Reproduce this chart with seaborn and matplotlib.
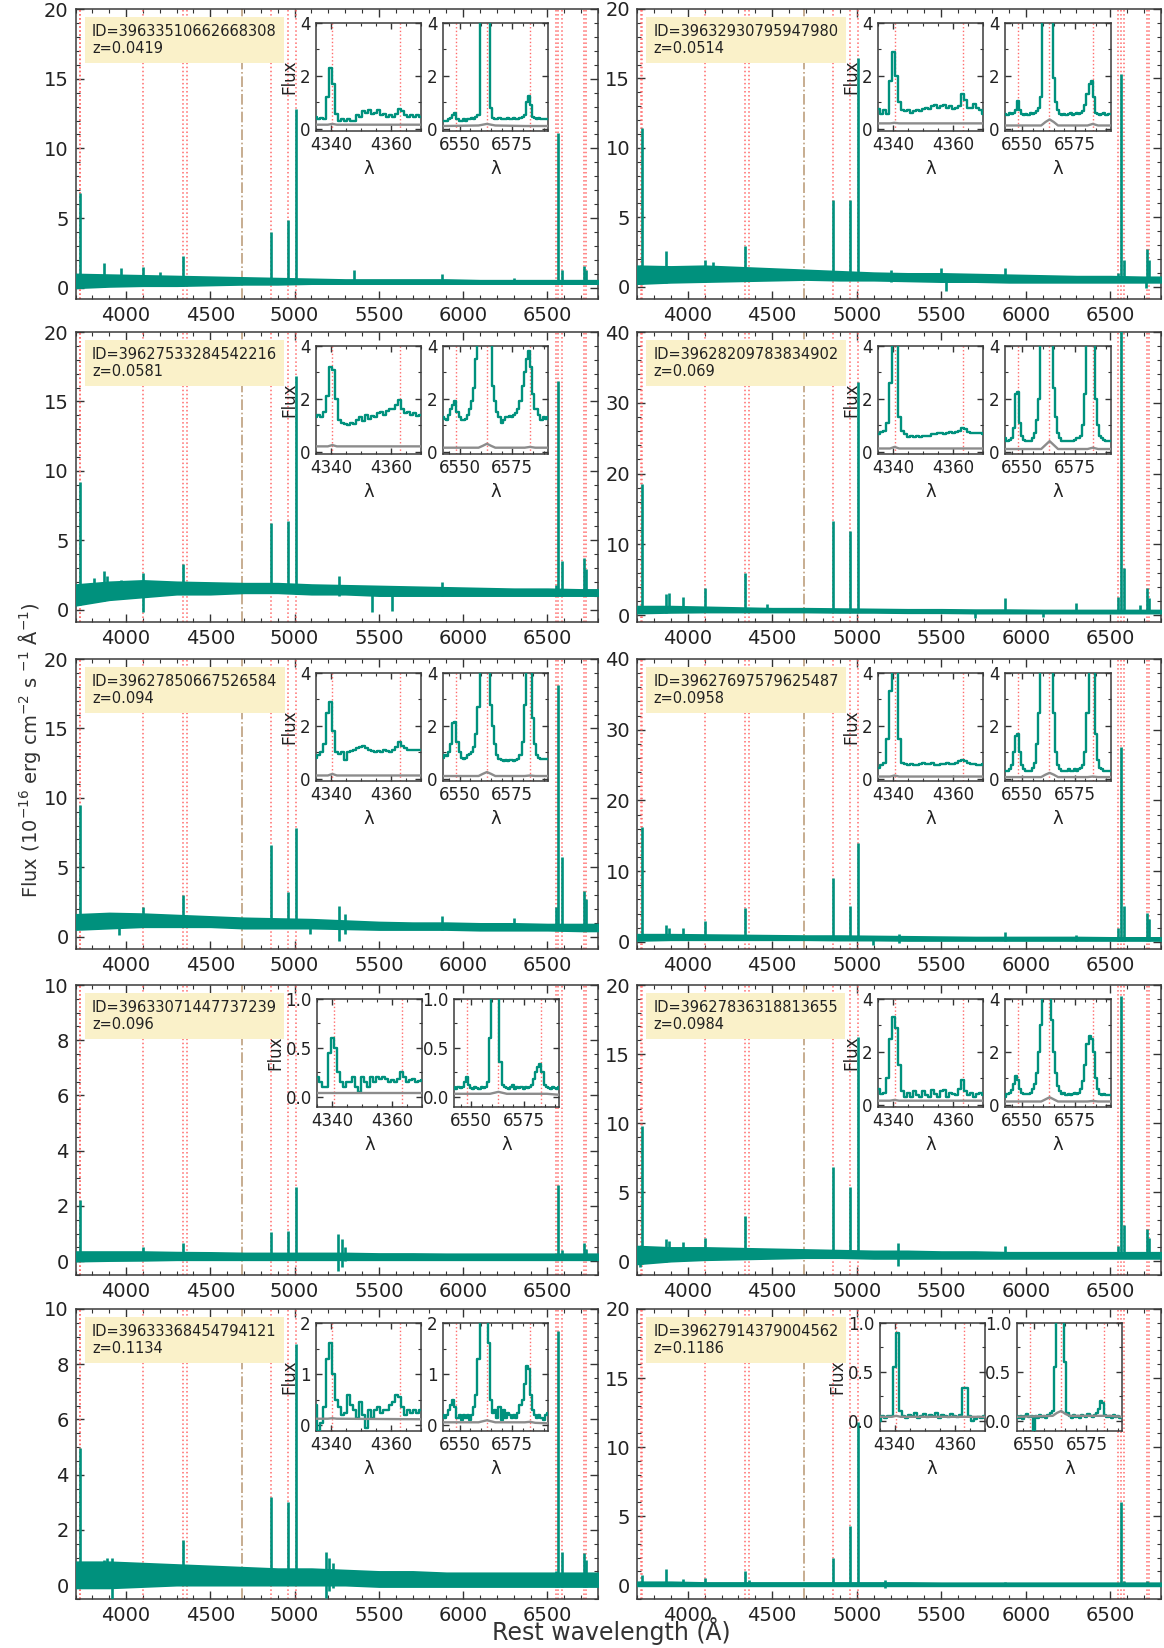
import numpy as np
import matplotlib
matplotlib.use("Agg")
import matplotlib.pyplot as plt
import seaborn as sns
from matplotlib.ticker import MultipleLocator, AutoMinorLocator

# ---------------------------------------------------------------- data
IDS = ["39633510662668308", "39632930795947980", "39627533284542216",
       "39628209783834902", "39627850667526584", "39627697579625487",
       "39633071447737239", "39627836318813655", "39633368454794121",
       "39627914379004562"]
REDSHIFTS = ["0.0419", "0.0514", "0.0581", "0.069", "0.094",
             "0.0958", "0.096", "0.0984", "0.1134", "0.1186"]
YMAX = [20, 20, 20, 40, 20, 40, 10, 20, 10, 20]
YMIN = [-0.8, -0.9, -0.9, -0.95, -0.9, -1.0, -0.5, -1.0, -0.5, -1.0]
INSET_YMAX = [4, 4, 4, 4, 4, 4, 1, 4, 2, 1]

# continuum envelope knots (rest wavelength, Angstrom)
KNOTS = [3700, 3900, 4100, 4300, 4500, 4700, 4900, 5100, 5300, 5500,
         5700, 5900, 6100, 6300, 6500, 6700, 6800]
LINE_WAVES = [3727, 3869, 3889, 3970, 4102, 4340, 4861, 4959, 5007,
              5876, 6300, 6548, 6563, 6584, 6717, 6731]
# marked lines
RED_LINES = [3726.0, 3728.8, 4101.7, 4340.5, 4363.2, 4861.3, 4958.9,
             5006.8, 6548.1, 6562.8, 6583.5, 6716.4, 6730.8]
HEII = 4685.7

lo_1 = [0.0, 0.1, 0.15, 0.15, 0.2, 0.25, 0.25, 0.3, 0.3, 0.3, 0.3, 0.3, 0.3, 0.3, 0.3, 0.3, 0.3]
hi_1 = [1.0, 0.95, 0.9, 0.85, 0.8, 0.75, 0.7, 0.65, 0.6, 0.6, 0.6, 0.6, 0.55, 0.55, 0.55, 0.55, 0.55]
peak_1 = [6.8, 1.75, 0, 1.4, 1.5, 2.3, 4.0, 4.85, 12.8, 1.0, 0.7, 0, 11.1, 1.3, 1.6, 1.3]
xw_1 = [3780, 4200, 5350]; xlo_1 = [0.2, 0.3, 0.3]; xhi_1 = [1.0, 1.15, 1.3]

lo_2 = [0.2, 0.3, 0.35, 0.4, 0.45, 0.5, 0.45, 0.45, 0.4, 0.35, 0.35, 0.3, 0.3, 0.3, 0.3, 0.3, 0.3]
hi_2 = [1.5, 1.45, 1.5, 1.4, 1.3, 1.2, 1.1, 1.0, 0.95, 0.95, 0.9, 0.85, 0.8, 0.75, 0.75, 0.7, 0.7]
peak_2 = [11.4, 2.55, 0, 0, 1.9, 2.95, 6.2, 6.2, 16.5, 1.3, 0, 1.0, 15.3, 1.9, 2.7, 1.9]
xw_2 = [4150, 5200, 5500, 5530, 6710]; xlo_2 = [0.4, 0.3, 0.3, -0.3, -0.1]; xhi_2 = [1.8, 1.2, 1.35, 0.8, 0.6]

lo_3 = [0.3, 0.7, 0.9, 1.1, 1.1, 1.2, 1.2, 1.1, 1.1, 1.0, 1.0, 1.0, 1.0, 1.0, 1.0, 1.0, 1.0]
hi_3 = [1.8, 2.0, 2.1, 2.0, 1.95, 1.9, 1.9, 1.8, 1.75, 1.7, 1.65, 1.6, 1.55, 1.5, 1.5, 1.45, 1.45]
peak_3 = [9.2, 2.8, 2.4, 2.1, 2.6, 3.3, 6.2, 6.4, 16.8, 2.0, 0, 1.8, 16.5, 3.5, 3.7, 2.9]
xw_3 = [3807, 4102, 5265, 5460, 5577]; xlo_3 = [1.0, -0.15, 1.0, -0.2, -0.1]; xhi_3 = [2.3, 1.2, 2.4, 1.3, 1.3]

lo_4 = [0.3, 0.4, 0.45, 0.45, 0.45, 0.45, 0.4, 0.4, 0.35, 0.35, 0.3, 0.3, 0.3, 0.3, 0.3, 0.3, 0.3]
hi_4 = [1.3, 1.3, 1.2, 1.1, 1.0, 1.0, 0.95, 0.9, 0.85, 0.85, 0.8, 0.8, 0.75, 0.75, 0.75, 0.75, 0.75]
peak_4 = [18.6, 3.0, 3.2, 2.6, 3.8, 6.0, 13.3, 11.9, 32.9, 2.4, 1.7, 2.6, 45, 6.7, 3.8, 2.5]
xw_4 = [4471, 5700, 6100, 6678]; xlo_4 = [0.5, -0.4, -0.3, 0.4]; xhi_4 = [1.6, 0.8, 0.8, 1.4]

lo_5 = [0.5, 0.6, 0.7, 0.7, 0.7, 0.6, 0.6, 0.6, 0.55, 0.5, 0.5, 0.5, 0.45, 0.45, 0.45, 0.4, 0.4]
hi_5 = [1.6, 1.7, 1.65, 1.55, 1.45, 1.35, 1.3, 1.25, 1.15, 1.05, 1.0, 1.0, 0.95, 0.95, 0.9, 0.9, 0.9]
peak_5 = [9.5, 0, 0, 0, 2.1, 3.0, 6.6, 3.2, 7.8, 1.5, 1.3, 2.1, 18.1, 5.7, 3.3, 2.7]
xw_5 = [3957, 5090, 5265, 5300]; xlo_5 = [0.1, 0.2, -0.3, 0.2]; xhi_5 = [1.2, 1.0, 2.2, 1.6]

lo_6 = [0.2, 0.3, 0.3, 0.3, 0.3, 0.3, 0.25, 0.25, 0.2, 0.2, 0.2, 0.2, 0.2, 0.2, 0.2, 0.2, 0.2]
hi_6 = [1.1, 1.1, 1.05, 1.0, 0.95, 0.9, 0.9, 0.85, 0.8, 0.75, 0.7, 0.7, 0.7, 0.7, 0.65, 0.65, 0.65]
peak_6 = [16.2, 2.4, 2.0, 1.9, 2.9, 4.8, 9.0, 5.1, 14.0, 1.45, 1.0, 1.9, 27.6, 5.1, 4.1, 3.3]
xw_6 = [5095, 5250]; xlo_6 = [-0.5, -0.2]; xhi_6 = [0.6, 1.1]

lo_7 = [0.0, 0.02, 0.03, 0.05, 0.05, 0.05, 0.05, 0.05, 0.05, 0.05, 0.05, 0.05, 0.05, 0.05, 0.05, 0.05, 0.05]
hi_7 = [0.35, 0.35, 0.35, 0.33, 0.32, 0.3, 0.3, 0.3, 0.3, 0.28, 0.28, 0.27, 0.27, 0.27, 0.27, 0.27, 0.27]
peak_7 = [2.2, 0.35, 0, 0, 0.5, 0.65, 1.07, 1.1, 2.7, 0, 0, 0, 2.75, 0.4, 0.65, 0.45]
xw_7 = [5260, 5280, 5300]; xlo_7 = [-0.35, -0.2, 0.0]; xhi_7 = [1.0, 0.8, 0.5]

lo_8 = [-0.2, 0.0, 0.1, 0.15, 0.2, 0.25, 0.25, 0.2, 0.2, 0.2, 0.2, 0.2, 0.2, 0.2, 0.2, 0.2, 0.2]
hi_8 = [1.1, 1.0, 1.0, 0.95, 0.9, 0.85, 0.8, 0.75, 0.75, 0.7, 0.7, 0.65, 0.65, 0.65, 0.65, 0.65, 0.65]
peak_8 = [9.8, 1.6, 1.45, 1.4, 1.7, 3.3, 6.8, 5.4, 16.2, 1.1, 0, 1.1, 19.2, 2.6, 2.35, 1.7]
xw_8 = [3715, 5245]; xlo_8 = [-0.4, -0.35]; xhi_8 = [0.8, 1.3]

lo_9 = [-0.1, -0.1, -0.05, 0.0, 0.0, 0.0, 0.0, 0.0, 0.0, -0.05, -0.05, -0.05, -0.05, -0.05, -0.05, -0.05, -0.05]
hi_9 = [0.85, 0.85, 0.8, 0.75, 0.7, 0.65, 0.6, 0.6, 0.55, 0.5, 0.5, 0.45, 0.45, 0.45, 0.45, 0.45, 0.45]
peak_9 = [4.95, 0.9, 1.0, 0, 0, 1.65, 3.2, 3.0, 8.75, 0, 0, 0.5, 9.2, 1.2, 1.15, 0.9]
xw_9 = [3915, 5185, 5205, 5230]; xlo_9 = [-0.5, -0.45, -0.2, -0.1]; xhi_9 = [1.0, 1.2, 1.0, 0.8]

lo_10 = [-0.05, -0.05, -0.05, -0.05, -0.05, -0.05, -0.05, -0.05, -0.05, -0.05, -0.05, -0.05, -0.05, -0.05, -0.05, -0.05, -0.05]
hi_10 = [0.25, 0.25, 0.2, 0.2, 0.2, 0.2, 0.2, 0.2, 0.2, 0.18, 0.18, 0.18, 0.18, 0.18, 0.18, 0.18, 0.18]
peak_10 = [0.75, 1.2, 0, 0.45, 0.55, 1.0, 2.0, 4.3, 11.8, 0.2, 0, 0, 6.05, 0.3, 0.3, 0]
xw_10 = [4363, 5165]; xlo_10 = [0.0, -0.2]; xhi_10 = [0.4, 0.4]

# insets: 1-Angstrom pixels starting at HG_START / HA_START
HG_START, HA_START = 4335, 6542
hg_1 = [0.45, 0.35, 0.4, 0.35, 1.2, 2.3, 1.7, 0.55, 0.3, 0.35, 0.3, 0.35, 0.3, 0.3, 0.5, 0.45, 0.65, 0.6,
        0.7, 0.55, 0.6, 0.7, 0.5, 0.55, 0.45, 0.5, 0.45, 0.55, 0.75, 0.65, 0.5, 0.45, 0.5, 0.45, 0.5, 0.45]
ha_1 = [0.3, 0.3, 0.3, 0.35, 0.4, 0.5, 0.6, 0.35, 0.3, 0.3, 0.35, 0.3, 0.35, 0.35, 0.4, 0.35, 0.45,
        0.5, 4.5, 11, 11, 11, 4.5, 0.8, 0.4, 0.35, 0.35, 0.4, 0.35, 0.35, 0.35, 0.4, 0.35, 0.35,
        0.4, 0.35, 0.35, 0.4, 0.45, 0.5, 1.0, 1.25, 0.9, 0.45, 0.4, 0.35, 0.4, 0.35, 0.35, 0.35, 0.35]
hg_2 = [0.75, 0.55, 0.7, 0.55, 1.8, 2.9, 2.0, 1.0, 0.7, 0.65, 0.7, 0.6, 0.65, 0.7, 0.65, 0.75, 0.8, 0.75,
        0.85, 0.9, 0.8, 0.85, 0.9, 0.8, 0.85, 0.75, 0.8, 0.85, 1.3, 1.1, 0.8, 0.8, 0.95, 0.8, 0.7, 0.55]
ha_2 = [0.55, 0.5, 0.6, 0.55, 0.6, 0.7, 1.05, 0.7, 0.55, 0.5, 0.55, 0.5, 0.6, 0.55, 0.6, 0.65, 0.8,
        1.2, 5, 15, 15, 15, 6, 1.9, 1.0, 0.7, 0.55, 0.5, 0.55, 0.5, 0.55, 0.6, 0.5, 0.55,
        0.6, 0.55, 0.6, 0.65, 0.9, 1.3, 1.7, 1.8, 1.2, 0.6, 0.55, 0.5, 0.55, 0.6, 0.5, 0.55, 0.55]
hg_3 = [1.3, 1.4, 1.3, 1.5, 2.1, 3.2, 3.1, 2.0, 1.2, 1.1, 1.05, 1.0, 1.1, 1.05, 1.2, 1.3, 1.15, 1.4,
        1.25, 1.35, 1.3, 1.45, 1.5, 1.4, 1.55, 1.6, 1.6, 1.75, 1.95, 1.6, 1.45, 1.5, 1.4, 1.45, 1.35, 1.4]
ha_3 = [1.3, 1.25, 1.2, 1.4, 1.6, 1.75, 1.9, 1.5, 1.3, 1.2, 1.2, 1.25, 1.4, 1.6, 1.9, 2.4, 3.5,
        6, 14, 17, 17, 14, 6, 4.5, 2.5, 1.9, 1.5, 1.3, 1.1, 1.2, 1.3, 1.3, 1.35, 1.3,
        1.4, 1.45, 1.6, 1.9, 2.5, 3.0, 3.5, 3.8, 3.2, 2.2, 1.6, 1.6, 1.4, 1.2, 1.3, 1.25, 1.3]
hg_4 = [0.65, 0.75, 0.8, 1.1, 2.6, 6.0, 5.0, 1.3, 0.8, 0.65, 0.55, 0.6, 0.55, 0.6, 0.55, 0.6, 0.6, 0.6,
        0.65, 0.65, 0.7, 0.7, 0.65, 0.7, 0.75, 0.7, 0.75, 0.8, 0.9, 0.85, 0.75, 0.7, 0.7, 0.7, 0.7, 0.65]
ha_4 = [0.5, 0.4, 0.45, 0.5, 0.9, 2.2, 2.25, 1.1, 0.6, 0.45, 0.4, 0.4, 0.4, 0.5, 0.7, 1.2, 2.0,
        5, 20, 45, 45, 20, 6, 2.4, 1.3, 0.7, 0.5, 0.4, 0.4, 0.4, 0.4, 0.4, 0.4, 0.45,
        0.5, 0.5, 0.6, 1.0, 2.2, 4.5, 6.5, 6.7, 5.0, 2.0, 1.0, 0.6, 0.5, 0.45, 0.4, 0.4, 0.4]
hg_5 = [0.8, 0.9, 1.0, 1.3, 2.5, 2.9, 1.8, 1.0, 0.95, 1.0, 0.7, 1.0, 1.05, 1.1, 1.15, 1.2, 1.25, 1.15,
        1.1, 1.05, 1.0, 1.05, 1.0, 1.1, 1.05, 1.0, 1.1, 1.2, 1.4, 1.25, 1.15, 1.1, 1.1, 1.1, 1.1, 1.1]
ha_5 = [0.8, 0.9, 0.85, 1.0, 1.3, 2.1, 2.15, 1.4, 1.0, 0.8, 0.75, 0.8, 0.9, 0.95, 1.0, 1.2, 1.7,
        2.7, 8, 18, 18, 18, 8, 2.8, 2.0, 1.3, 0.9, 0.75, 0.7, 0.65, 0.7, 0.65, 0.7, 0.7,
        0.65, 0.7, 0.75, 0.9, 1.4, 2.8, 4.5, 5.7, 5.0, 2.3, 1.3, 0.9, 0.8, 0.75, 0.75, 0.75, 0.75]
hg_6 = [0.4, 0.5, 0.6, 1.5, 3.3, 4.8, 4.5, 1.5, 0.6, 0.55, 0.5, 0.55, 0.5, 0.5, 0.55, 0.6, 0.55, 0.55,
        0.6, 0.5, 0.5, 0.55, 0.55, 0.6, 0.55, 0.55, 0.6, 0.65, 0.7, 0.65, 0.6, 0.55, 0.55, 0.5, 0.5, 0.55]
ha_6 = [0.3, 0.3, 0.35, 0.5, 1.0, 1.6, 1.7, 1.0, 0.5, 0.35, 0.3, 0.3, 0.3, 0.4, 0.6, 1.3, 2.5,
        8, 20, 27.6, 27, 20, 8, 2.5, 1.0, 0.5, 0.35, 0.3, 0.3, 0.3, 0.35, 0.3, 0.3, 0.35,
        0.3, 0.35, 0.4, 0.5, 1.0, 2.5, 4.5, 5.1, 4.5, 1.7, 0.7, 0.4, 0.35, 0.3, 0.3, 0.3, 0.3]
hg_7 = [0.2, 0.15, 0.1, 0.1, 0.45, 0.6, 0.5, 0.25, 0.15, 0.1, 0.15, 0.15, 0.2, 0.1, 0.05, 0.2, 0.15, 0.1,
        0.2, 0.15, 0.2, 0.18, 0.2, 0.18, 0.15, 0.17, 0.15, 0.18, 0.25, 0.2, 0.15, 0.17, 0.18, 0.15, 0.16, 0.17]
ha_7 = [0.1, 0.08, 0.1, 0.09, 0.1, 0.15, 0.2, 0.12, 0.09, 0.08, 0.1, 0.09, 0.08, 0.1, 0.09, 0.1, 0.15,
        0.6, 1.8, 2.75, 2.7, 1.5, 0.35, 0.12, 0.1, 0.09, 0.08, 0.1, 0.12, 0.08, 0.1, 0.09, 0.1, 0.08,
        0.1, 0.09, 0.1, 0.12, 0.18, 0.25, 0.3, 0.33, 0.25, 0.12, 0.1, 0.09, 0.08, 0.1, 0.09, 0.08, 0.1]
hg_8 = [0.6, 0.4, 0.45, 1.0, 2.5, 3.3, 2.9, 1.5, 0.5, 0.3, 0.45, 0.3, 0.5, 0.35, 0.3, 0.5, 0.35, 0.3,
        0.55, 0.4, 0.3, 0.5, 0.55, 0.3, 0.45, 0.4, 0.35, 0.6, 0.95, 0.5, 0.35, 0.45, 0.3, 0.4, 0.45, 0.35]
ha_8 = [0.3, 0.4, 0.45, 0.55, 0.8, 1.1, 0.95, 0.6, 0.45, 0.4, 0.4, 0.4, 0.45, 0.6, 0.8, 1.2, 2.0,
        3.0, 8, 19.2, 19, 8, 3.2, 2.0, 1.2, 0.7, 0.5, 0.4, 0.45, 0.35, 0.4, 0.35, 0.4, 0.45,
        0.4, 0.45, 0.6, 0.9, 1.5, 2.3, 2.6, 2.5, 2.0, 1.0, 0.6, 0.4, 0.35, 0.4, 0.35, 0.35, 0.35]
hg_9 = [0.4, -0.1, 0.05, 0.35, 1.3, 1.6, 1.0, 0.5, 0.35, 0.2, 0.25, 0.6, 0.4, 0.3, 0.15, 0.45, 0.2, -0.05,
        0.3, 0.15, 0.3, 0.35, 0.25, 0.3, 0.3, 0.4, 0.45, 0.6, 0.55, 0.35, 0.2, 0.3, 0.25, 0.3, 0.25, 0.3]
ha_9 = [0.2, 0.15, 0.2, 0.3, 0.4, 0.5, 0.35, 0.15, 0.2, 0.1, 0.2, 0.15, 0.2, 0.1, 0.2, 0.35, 0.6,
        1.3, 4, 9.2, 9.2, 4, 1.6, 0.5, 0.25, 0.3, 0.15, 0.35, 0.1, 0.3, 0.15, 0.25, 0.2, 0.15,
        0.2, 0.15, 0.25, 0.4, 0.5, 0.8, 1.15, 1.1, 0.6, 0.3, 0.2, 0.15, 0.2, 0.15, 0.1, 0.2, 0.25]
hg_10 = [0.0, 0.05, 0.03, 0.05, 0.05, 0.55, 0.9, 0.1, 0.05, 0.03, 0.06, 0.05, 0.08, 0.03, 0.05, 0.07, 0.04, 0.06,
         0.05, 0.08, 0.03, 0.06, 0.05, 0.04, 0.07, 0.05, 0.04, 0.06, 0.33, 0.33, 0.05, 0.0, 0.02, 0.04, 0.03, 0.05]
ha_10 = [0.05, 0.03, 0.05, 0.02, 0.05, 0.07, 0.04, 0.05, -0.15, 0.05, 0.03, 0.06, 0.04, 0.05, 0.03, 0.06, 0.08,
         0.1, 0.55, 2.5, 6.05, 6.0, 1.5, 0.6, 0.08, 0.05, 0.03, 0.06, 0.04, 0.05, 0.03, 0.06, 0.05, 0.04,
         0.07, 0.05, 0.04, 0.06, 0.08, 0.12, 0.2, 0.18, 0.06, 0.04, 0.05, 0.03, 0.06, 0.04, 0.05, 0.03, 0.04]

# error spectra (grey) in the insets
ERR_HG_WAVE = [4335, 4339, 4340.5, 4342, 4370]
ERR_HA_WAVE = [6542, 6559, 6561, 6563, 6565, 6567, 6581, 6583.5, 6586, 6592]
ehg_1 = [0.15, 0.15, 0.18, 0.15, 0.15]; eha_1 = [0.1, 0.12, 0.15, 0.18, 0.15, 0.12, 0.1, 0.1, 0.1, 0.1]
ehg_2 = [0.2, 0.2, 0.22, 0.2, 0.2];     eha_2 = [0.12, 0.12, 0.25, 0.35, 0.25, 0.12, 0.12, 0.18, 0.12, 0.12]
ehg_3 = [0.2, 0.2, 0.25, 0.2, 0.2];     eha_3 = [0.15, 0.15, 0.22, 0.3, 0.22, 0.15, 0.15, 0.18, 0.15, 0.15]
ehg_4 = [0.12, 0.12, 0.18, 0.12, 0.12]; eha_4 = [0.1, 0.1, 0.25, 0.4, 0.25, 0.1, 0.1, 0.15, 0.1, 0.1]
ehg_5 = [0.12, 0.12, 0.18, 0.12, 0.12]; eha_5 = [0.1, 0.1, 0.18, 0.25, 0.18, 0.1, 0.1, 0.12, 0.1, 0.1]
ehg_6 = [0.08, 0.08, 0.12, 0.08, 0.08]; eha_6 = [0.06, 0.06, 0.15, 0.22, 0.15, 0.06, 0.06, 0.08, 0.06, 0.06]
ehg_7 = [0.04, 0.04, 0.04, 0.04, 0.04]; eha_7 = [0.03, 0.03, 0.04, 0.05, 0.04, 0.03, 0.03, 0.03, 0.03, 0.02]
ehg_8 = [0.15, 0.15, 0.18, 0.15, 0.15]; eha_8 = [0.12, 0.12, 0.2, 0.28, 0.2, 0.12, 0.12, 0.14, 0.12, 0.12]
ehg_9 = [0.13, 0.13, 0.14, 0.13, 0.12]; eha_9 = [0.06, 0.06, 0.08, 0.1, 0.08, 0.06, 0.06, 0.07, 0.05, 0.04]
ehg_10 = [0.04, 0.04, 0.05, 0.04, 0.04]; eha_10 = [0.04, 0.05, 0.08, 0.1, 0.07, 0.05, 0.05, 0.05, 0.05, 0.04]

LO = [lo_1, lo_2, lo_3, lo_4, lo_5, lo_6, lo_7, lo_8, lo_9, lo_10]
HI = [hi_1, hi_2, hi_3, hi_4, hi_5, hi_6, hi_7, hi_8, hi_9, hi_10]
PEAK = [peak_1, peak_2, peak_3, peak_4, peak_5, peak_6, peak_7, peak_8, peak_9, peak_10]
XW = [xw_1, xw_2, xw_3, xw_4, xw_5, xw_6, xw_7, xw_8, xw_9, xw_10]
XLO = [xlo_1, xlo_2, xlo_3, xlo_4, xlo_5, xlo_6, xlo_7, xlo_8, xlo_9, xlo_10]
XHI = [xhi_1, xhi_2, xhi_3, xhi_4, xhi_5, xhi_6, xhi_7, xhi_8, xhi_9, xhi_10]
HG = [hg_1, hg_2, hg_3, hg_4, hg_5, hg_6, hg_7, hg_8, hg_9, hg_10]
HA = [ha_1, ha_2, ha_3, ha_4, ha_5, ha_6, ha_7, ha_8, ha_9, ha_10]
EHG = [ehg_1, ehg_2, ehg_3, ehg_4, ehg_5, ehg_6, ehg_7, ehg_8, ehg_9, ehg_10]
EHA = [eha_1, eha_2, eha_3, eha_4, eha_5, eha_6, eha_7, eha_8, eha_9, eha_10]

# ---------------------------------------------------------------- style
sns.set_theme(style="ticks")
plt.rcParams["font.family"] = ["DejaVu Sans"]
plt.rcParams["mathtext.default"] = "regular"
plt.rcParams["axes.linewidth"] = 1.1
plt.rcParams["axes.edgecolor"] = "#3a3a3a"

TEAL = "#00917D"
RED = "#FF6B6B"
TAN = "#BDA07E"
GREY = "#8c8c8c"
TXT = "#222222"

W, H = 1164, 1648
fig = plt.figure(figsize=(W / 100, H / 100), dpi=100)
COL_X = [75.5, 637]
COL_W = [522.5, 524]
ROW_TOP = [9, 332, 659, 985, 1309]
ROW_H = 290
YSTEP = {20: 5, 40: 10, 10: 2}


def style_ticks(a, size, major_len, minor_len, pad):
    a.tick_params(which="both", direction="in", top=True, right=True,
                  labelsize=size, pad=pad, colors="#333333", labelcolor=TXT)
    a.tick_params(which="major", length=major_len, width=1.0)
    a.tick_params(which="minor", length=minor_len, width=0.8)


for i in range(10):
    r, c = divmod(i, 2)
    ax = fig.add_axes([COL_X[c] / W, 1 - (ROW_TOP[r] + ROW_H) / H,
                       COL_W[c] / W, ROW_H / H])
    ax.set_xlim(3700, 6800)
    ax.set_ylim(YMIN[i], YMAX[i])
    for w in RED_LINES:
        ax.axvline(w, color=RED, ls=":", lw=1.1, zorder=1)
    ax.axvline(HEII, color=TAN, ls="-.", lw=1.2, zorder=1)

    lo = np.array(LO[i]); hi = np.array(HI[i])
    ax.fill_between(KNOTS, lo, hi, color=TEAL, lw=1.2, edgecolor=TEAL, zorder=3)
    lw_arr = np.array(LINE_WAVES, dtype=float)
    pk = np.array(PEAK[i], dtype=float)
    m = pk > 0
    base = np.interp(lw_arr[m], KNOTS, lo)
    ax.vlines(lw_arr[m], base, pk[m], color=TEAL, lw=1.9, zorder=3)
    ax.vlines(XW[i], XLO[i], XHI[i], color=TEAL, lw=1.9, zorder=3)

    ax.xaxis.set_major_locator(MultipleLocator(500))
    ax.xaxis.set_minor_locator(MultipleLocator(100))
    ax.yaxis.set_major_locator(MultipleLocator(YSTEP[YMAX[i]]))
    ax.yaxis.set_minor_locator(AutoMinorLocator())
    style_ticks(ax, 14, 6, 3, 5)

    ax.text(0.0316, 0.948, f"ID={IDS[i]}\nz={REDSHIFTS[i]}", transform=ax.transAxes,
            fontsize=10.5, va="top", ha="left", color=TXT, linespacing=1.15, zorder=6,
            bbox=dict(boxstyle="square,pad=0.5", fc="#FAF1C9", ec="none"))

    # insets
    iy = INSET_YMAX[i]
    small = iy == 1
    x_left, x_right = (0.463, 0.725) if small else (0.460, 0.703)
    a1 = ax.inset_axes([x_left, 0.581, 0.201, 0.371])
    a2 = ax.inset_axes([x_right, 0.581, 0.201, 0.371])
    ybot = -0.07 if iy == 4 else -0.1
    for a, vals, start, ew, ev, lines, xl, step in (
            (a1, HG[i], HG_START, ERR_HG_WAVE, EHG[i], [4340.5, 4363.2], (4335, 4370), 20),
            (a2, HA[i], HA_START, ERR_HA_WAVE, EHA[i], [6548.1, 6562.8, 6583.5], (6542, 6592), 25)):
        a.set_facecolor("white")
        xs = start + np.arange(len(vals))
        sns.lineplot(x=xs, y=vals, ax=a, color=TEAL, linewidth=1.7,
                     drawstyle="steps-mid", estimator=None, legend=False, zorder=3)
        sns.lineplot(x=ew, y=ev, ax=a, color=GREY, linewidth=1.7,
                     estimator=None, legend=False, zorder=4)
        for w in lines:
            a.axvline(w, color=RED, ls=":", lw=1.0, zorder=2)
        a.set_xlim(*xl)
        a.set_ylim(ybot, iy)
        a.xaxis.set_major_locator(MultipleLocator(step))
        a.xaxis.set_minor_locator(MultipleLocator(5))
        a.yaxis.set_major_locator(MultipleLocator(iy / 2))
        a.yaxis.set_minor_locator(AutoMinorLocator(2))
        style_ticks(a, 12, 4, 2, 4)
        a.set_xlabel("λ", fontsize=13, labelpad=4, color=TXT)
        a.set_ylabel("")
    a1.set_ylabel("Flux", fontsize=12, labelpad=1, color=TXT)

fig.text(611 / W, 1 - 1631 / H, "Rest wavelength (Å)", ha="center", va="center",
         fontsize=17, color="#333333")
fig.text(30 / W, 1 - 750 / H,
         "Flux (10$^{-16}$ erg cm$^{-2}$ s $^{-1}$ Å$^{-1}$)",
         rotation=90, ha="center", va="center", fontsize=14, color="#333333")

fig.savefig("out.png", dpi=100)
